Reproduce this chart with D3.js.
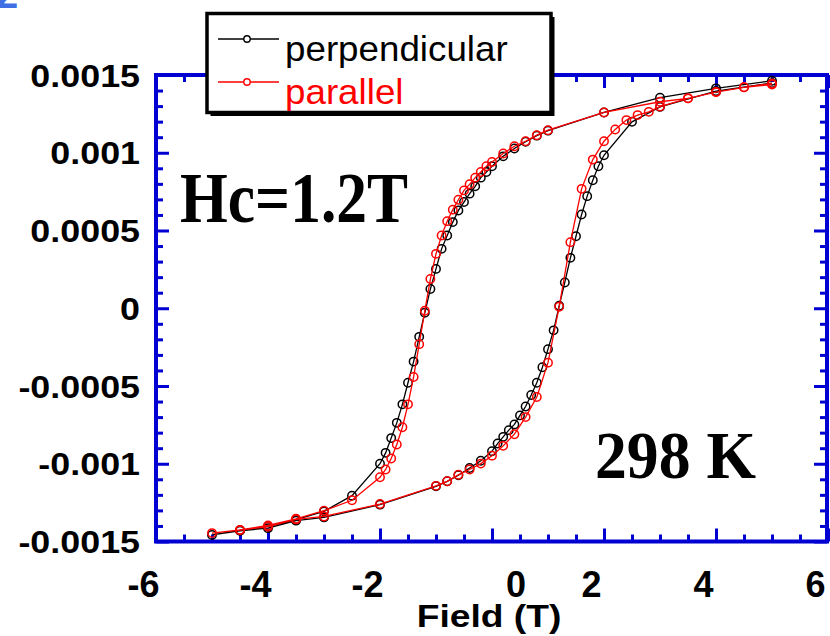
<!DOCTYPE html>
<html>
<head>
<meta charset="utf-8">
<script src="https://cdn.jsdelivr.net/npm/d3@7"></script>
<style>
  body { margin: 0; background: #fff; }
  svg { display: block; }
</style>
</head>
<body>
<svg id="chart" width="830" height="636"></svg>
<script>
const xTicks = [-6, -4, -2, 0, 2, 4, 6];
const yTicks = [0.0015, 0.001, 0.0005, 0, -0.0005, -0.001, -0.0015];
const yTickLabels = ['0.0015', '0.001', '0.0005', '0', '-0.0005', '-0.001', '-0.0015'];
const seriesNames = ['perpendicular', 'parallel'];

// perpendicular: field sweep 5 -> -5 -> 5 (T), moment (emu)
const perpField = [5, 4, 3, 2, 1, 0.8, 0.6, 0.4, 0.2, 0,
  -0.1, -0.2, -0.3, -0.4, -0.5, -0.6, -0.7, -0.8, -0.9, -1,
  -1.1, -1.2, -1.3, -1.4, -1.5, -1.6, -1.7, -1.8, -1.9, -2,
  -2.5, -3, -3.5, -4, -4.5, -5,
  -4.5, -4, -3.5, -3, -2, -1, -0.8, -0.6, -0.4, -0.2, 0,
  0.1, 0.2, 0.3, 0.4, 0.5, 0.6, 0.7, 0.8, 0.9, 1,
  1.1, 1.2, 1.3, 1.4, 1.5, 1.6, 1.7, 1.8, 1.9, 2,
  2.5, 3, 4, 5];
const perpMoment = [0.001463, 0.001414, 0.001354, 0.001259, 0.001142, 0.00111, 0.001071, 0.001027, 0.000977, 0.000913,
  0.000876, 0.00084, 0.000784, 0.000737, 0.000683, 0.000629, 0.000554, 0.000468, 0.000382, 0.000253,
  0.000124, -0.000029, -0.000184, -0.000343, -0.000479, -0.000618, -0.000737, -0.000835, -0.00093, -0.001,
  -0.001205, -0.001306, -0.00136, -0.001403, -0.001429, -0.001458,
  -0.001431, -0.001414, -0.001366, -0.001345, -0.001263, -0.001145, -0.001113, -0.001074, -0.001027, -0.000981, -0.000919,
  -0.00087, -0.000827, -0.000784, -0.000747, -0.000689, -0.000632, -0.000558, -0.000479, -0.000379, -0.000263,
  -0.000142, 0.000016, 0.000166, 0.000324, 0.000463, 0.000603, 0.000721, 0.000823, 0.000913, 0.000984,
  0.001199, 0.001295, 0.001397, 0.001448];

// parallel
const parField = [5, 4.5, 4, 3.5, 3, 2, 1, 0.8, 0.6, 0.4, 0.2, 0,
  -0.1, -0.2, -0.3, -0.4, -0.5, -0.6, -0.7, -0.8, -0.9, -1,
  -1.1, -1.2, -1.3, -1.4, -1.5, -1.6, -1.7, -1.8, -1.9, -2,
  -2.5, -3, -3.5, -4, -4.5, -5,
  -4.5, -4, -3.5, -3, -2, -1, -0.8, -0.6, -0.4, -0.2, 0,
  0.2, 0.4, 0.6, 0.8, 1, 1.2, 1.4, 1.6, 1.8, 2,
  2.2, 2.4, 2.6, 2.8, 3, 3.5, 4, 4.5, 5];
const parMoment = [0.001446, 0.001421, 0.00139, 0.00135, 0.001328, 0.001259, 0.001145, 0.001113, 0.001074, 0.001042, 0.000995, 0.000941,
  0.000913, 0.000876, 0.00084, 0.000797, 0.000758, 0.000698, 0.000634, 0.00056, 0.000468, 0.00035,
  0.000188, -0.000016, -0.000231, -0.000442, -0.000618, -0.000765, -0.000876, -0.000966, -0.001037, -0.001087,
  -0.001235, -0.001302, -0.001354, -0.001397, -0.001425, -0.001446,
  -0.001427, -0.001405, -0.001358, -0.001339, -0.001259, -0.001142, -0.001113, -0.001071, -0.001037, -0.000999, -0.000948,
  -0.000885, -0.00081, -0.0007, -0.000571, -0.00035, 0.00001, 0.000425, 0.000768, 0.000956, 0.001074,
  0.00115, 0.00121, 0.001242, 0.001263, 0.001297, 0.00135, 0.00139, 0.001421, 0.001439];

const blue = '#0000d2';
const colors = ['#000000', '#ff0000'];
const plot = { left: 156, right: 827, top: 75, bottom: 541.5 };

let svg = d3.select('#chart');

let xScale = d3.scaleLinear().domain([-6, 6]).range([plot.left, 828]);
let yScale = d3.scaleLinear().domain([-0.0015, 0.0015]).range([plot.bottom, plot.top]);

// squeeze / widen a text to a factor of its natural width
function stretch(text, factor) {
  text.each(function () {
    let w = this.getComputedTextLength();
    d3.select(this).attr('textLength', w * factor).attr('lengthAdjust', 'spacingAndGlyphs');
  });
}

// bit of the panel label from the figure above
svg.append('text')
  .attr('x', -4).attr('y', 8)
  .attr('font-family', 'Liberation Sans, Arial, sans-serif')
  .attr('font-weight', 'bold')
  .attr('font-size', 40)
  .attr('fill', '#3f6fe3')
  .text('2');

// ticks, all pointing inwards
let minorX = d3.range(-6, 6.01, 0.5);
let minorY = d3.range(-15, 16).map(i => i * 0.0001);
let isMajorX = v => Math.abs(v / 2 - Math.round(v / 2)) < 1e-6;
let isMajorY = v => Math.abs(v / 0.0005 - Math.round(v / 0.0005)) < 1e-6;

function drawTicks(axisFn, scale, values, isMajor, transform) {
  let g = svg.append('g')
    .attr('transform', transform)
    .call(axisFn(scale).tickValues(values).tickFormat('').tickSizeOuter(0)
      .tickSizeInner(0));
  g.select('.domain').remove();
  g.selectAll('.tick line')
    .attr('stroke', blue)
    .attr('stroke-width', 3)
    .each(function (d) {
      let len = isMajor(d) ? 13 : 7;
      let line = d3.select(this);
      if (axisFn === d3.axisBottom) line.attr('y2', -len);
      if (axisFn === d3.axisTop) line.attr('y2', len);
      if (axisFn === d3.axisLeft) line.attr('x2', len);
      if (axisFn === d3.axisRight) line.attr('x2', -len);
    });
}

drawTicks(d3.axisBottom, xScale, minorX, isMajorX, `translate(0, ${plot.bottom})`);
drawTicks(d3.axisTop, xScale, minorX, isMajorX, `translate(0, ${plot.top})`);
drawTicks(d3.axisLeft, yScale, minorY, isMajorY, `translate(${plot.left}, 0)`);
drawTicks(d3.axisRight, yScale, minorY, isMajorY, `translate(${plot.right}, 0)`);

svg.append('rect')
  .attr('x', plot.left).attr('y', plot.top)
  .attr('width', plot.right - plot.left)
  .attr('height', plot.bottom - plot.top)
  .attr('fill', 'none')
  .attr('stroke', blue)
  .attr('stroke-width', 4);

// tick labels
let yLab = svg.append('g').selectAll('text')
  .data(yTicks)
  .enter()
  .append('text')
  .attr('x', 140)
  .attr('y', d => yScale(d) + 11.5)
  .attr('text-anchor', 'end')
  .attr('font-family', 'Liberation Sans, Arial, sans-serif')
  .attr('font-weight', 'bold')
  .attr('font-size', 32)
  .text((d, i) => yTickLabels[i]);
stretch(yLab, 1.12);

let xLab = svg.append('g').selectAll('text')
  .data(xTicks)
  .enter()
  .append('text')
  .attr('x', d => xScale(d) + (d === 0 ? 24 : -12.5))
  .attr('y', 597)
  .attr('text-anchor', 'middle')
  .attr('font-family', 'Liberation Sans, Arial, sans-serif')
  .attr('font-weight', 'bold')
  .attr('font-size', 36)
  .text(d => d);

let xTitle = svg.append('text')
  .attr('x', 489).attr('y', 627)
  .attr('text-anchor', 'middle')
  .attr('font-family', 'Liberation Sans, Arial, sans-serif')
  .attr('font-weight', 'bold')
  .attr('font-size', 31)
  .text('Field (T)');
stretch(xTitle, 1.2);

// data
let line = d3.line()
  .x(d => xScale(d[0]))
  .y(d => yScale(d[1]));

let series = [
  d3.zip(perpField, perpMoment),
  d3.zip(parField, parMoment)
];

series.forEach((pts, i) => {
  let g = svg.append('g');
  g.append('path')
    .datum(pts)
    .attr('d', line)
    .attr('fill', 'none')
    .attr('stroke', colors[i])
    .attr('stroke-width', 1.3);
  g.selectAll('circle')
    .data(pts)
    .enter()
    .append('circle')
    .attr('cx', d => xScale(d[0]))
    .attr('cy', d => yScale(d[1]))
    .attr('r', 4.2)
    .attr('fill', 'none')
    .attr('stroke', colors[i])
    .attr('stroke-width', 1.5);
});

// annotations
let hc = svg.append('text')
  .attr('x', 180).attr('y', 222)
  .attr('font-family', 'Liberation Serif, Times New Roman, serif')
  .attr('font-weight', 'bold')
  .attr('font-size', 72)
  .text('Hc=1.2T');
hc.attr('textLength', 228).attr('lengthAdjust', 'spacingAndGlyphs');

let temp = svg.append('text')
  .attr('x', 595).attr('y', 478)
  .attr('font-family', 'Liberation Serif, Times New Roman, serif')
  .attr('font-weight', 'bold')
  .attr('font-size', 68)
  .text('298 K');
temp.attr('textLength', 161).attr('lengthAdjust', 'spacingAndGlyphs');

// legend
let legend = svg.append('g');
legend.append('rect')
  .attr('x', 210.5).attr('y', 17)
  .attr('width', 344).attr('height', 99)
  .attr('fill', '#000');
legend.append('rect')
  .attr('x', 207).attr('y', 13.5)
  .attr('width', 344).attr('height', 99)
  .attr('fill', '#fff')
  .attr('stroke', '#000')
  .attr('stroke-width', 3.5);

let rows = legend.selectAll('.row')
  .data(seriesNames)
  .enter()
  .append('g')
  .attr('class', 'row')
  .attr('transform', (d, i) => `translate(0, ${i * 43})`);
rows.append('line')
  .attr('x1', 218).attr('x2', 279)
  .attr('y1', 39).attr('y2', 39)
  .attr('stroke', (d, i) => colors[i])
  .attr('stroke-width', 1.3);
rows.append('circle')
  .attr('cx', 247).attr('cy', 39)
  .attr('r', 3.2)
  .attr('fill', '#fff')
  .attr('stroke', (d, i) => colors[i])
  .attr('stroke-width', 1.4);
let legText = rows.append('text')
  .attr('x', 285).attr('y', 60.5)
  .attr('font-family', 'Liberation Sans, Arial, sans-serif')
  .attr('font-size', 35)
  .attr('fill', (d, i) => colors[i])
  .text(d => d);
stretch(legText, 1.05);
</script>
</body>
</html>
